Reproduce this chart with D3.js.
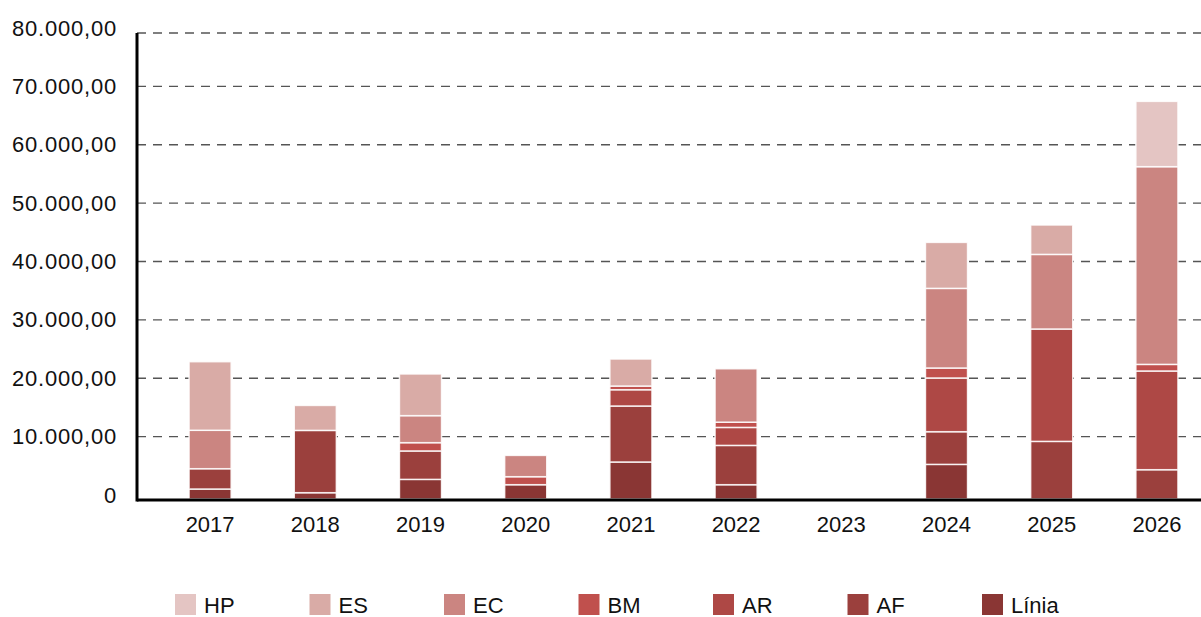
<!DOCTYPE html>
<html>
<head>
<meta charset="utf-8">
<script src="https://cdn.jsdelivr.net/npm/d3@7"></script>
<style>
  body { margin: 0; background: #fff; }
  text { font-family: "Liberation Sans", Arial, Helvetica, sans-serif; fill: #111; }
</style>
</head>
<body>
<div id="chart"></div>
<script>
// Data
const years = ['2017', '2018', '2019', '2020', '2021', '2022', '2023', '2024', '2025', '2026']
// stacked from bottom to top
const keys = ['Línia', 'AF', 'AR', 'BM', 'EC', 'ES', 'HP']
const linia = [1710, 1080, 3360, 2450, 6340, 2450, 0, 5930, 0, 0]
const af    = [3480, 10670, 4870, 0, 9590, 6730, 0, 5600, 9870, 5020]
const ar    = [0, 0, 0, 0, 2790, 3080, 0, 9200, 19250, 16910]
const bm    = [0, 0, 1420, 1370, 630, 900, 0, 1710, 0, 1130]
const ec    = [6580, 0, 4630, 3650, 0, 9150, 0, 13640, 12780, 33870]
const es    = [11750, 4280, 7140, 0, 4630, 0, 0, 7880, 5040, 0]
const hp    = [0, 0, 0, 0, 0, 0, 0, 0, 0, 11190]
const yTicks = [0, 10000, 20000, 30000, 40000, 50000, 60000, 70000, 80000]
const legendKeys = ['HP', 'ES', 'EC', 'BM', 'AR', 'AF', 'Línia']

const colors = {
  'Línia': '#8a3634',
  'AF': '#9b403d',
  'AR': '#ae4845',
  'BM': '#c0504d',
  'EC': '#cb8581',
  'ES': '#d9aba6',
  'HP': '#e4c5c3'
}

const table = years.map((y, i) => ({
  year: y,
  'Línia': linia[i], 'AF': af[i], 'AR': ar[i], 'BM': bm[i],
  'EC': ec[i], 'ES': es[i], 'HP': hp[i]
}))

// Dimensions
const width = 1201
const height = 617

const svg = d3.select('#chart')
  .append('svg')
  .attr('width', width)
  .attr('height', height)

// Scales
const xScale = d3.scaleBand()
  .domain(years)
  .range([157.5, 1209.5])
  .paddingInner(0.6)
  .paddingOuter(0.3)

const yScale = d3.scaleLinear()
  .domain([0, 80000])
  .range([499, 32])

// grid + labels (the labels sit a bit above the bar baseline, like the original)
const yAxis = d3.axisLeft(yScale)
  .tickValues(yTicks)
  .tickSize(0)
  .tickPadding(20)
  .tickFormat(d => d === 0 ? '0' : d3.format(',.2f')(d).replace(/,/g, 'X').replace('.', ',').replace(/X/g, '.'))

const yAxisGroup = svg.append('g')
  .attr('transform', 'translate(137, -4)')
  .call(yAxis)
yAxisGroup.select('.domain').remove()
yAxisGroup.selectAll('text')
  .style('font-size', '22px')
  .style('letter-spacing', '0.8px')
  .attr('fill', '#111')

svg.append('g')
  .selectAll('line')
  .data(yTicks.filter(d => d > 0))
  .join('line')
  .attr('x1', 137)
  .attr('x2', width)
  .attr('y1', d => yScale(d) - 4 + (d === 80000 ? 5 : 0))
  .attr('y2', d => yScale(d) - 4 + (d === 80000 ? 5 : 0))
  .attr('stroke', '#555')
  .attr('stroke-width', 1.4)
  .attr('stroke-dasharray', '9,7')

// Bars
const stacked = d3.stack().keys(keys)(table)

svg.append('g')
  .selectAll('g')
  .data(stacked)
  .join('g')
  .attr('fill', d => colors[d.key])
  .selectAll('rect')
  .data(d => d.filter(s => s[1] - s[0] > 0))
  .join('rect')
  .attr('x', d => xScale(d.data.year))
  .attr('y', d => yScale(d[1]))
  .attr('width', xScale.bandwidth())
  .attr('height', d => yScale(d[0]) - yScale(d[1]))
  .attr('stroke', '#fff')
  .attr('stroke-opacity', 0.85)
  .attr('stroke-width', 1.5)

// Axis lines
svg.append('line')
  .attr('x1', 137).attr('x2', 137)
  .attr('y1', yScale(80000) + 1).attr('y2', yScale(0) + 2.5)
  .attr('stroke', '#000')
  .attr('stroke-width', 3)

svg.append('line')
  .attr('x1', 137).attr('x2', width)
  .attr('y1', yScale(0) + 1).attr('y2', yScale(0) + 1)
  .attr('stroke', '#000')
  .attr('stroke-width', 3)

const xAxis = d3.axisBottom(xScale).tickSize(0).tickPadding(15)
const xAxisGroup = svg.append('g')
  .attr('transform', `translate(0, ${yScale(0) + 2})`)
  .call(xAxis)
xAxisGroup.select('.domain').remove()
xAxisGroup.selectAll('text')
  .style('font-size', '22px')
  .attr('fill', '#111')

// Legend
const legendX = d3.scaleBand()
  .domain(legendKeys)
  .range([175, 175 + 134.5 * legendKeys.length])

const legend = svg.append('g')
  .selectAll('g')
  .data(legendKeys)
  .join('g')
  .attr('transform', d => `translate(${legendX(d)}, 594)`)

legend.append('rect')
  .attr('width', 21)
  .attr('height', 21)
  .attr('fill', d => colors[d])

legend.append('text')
  .attr('x', 29)
  .attr('y', 18.5)
  .style('font-size', '22px')
  .text(d => d)
</script>
</body>
</html>
